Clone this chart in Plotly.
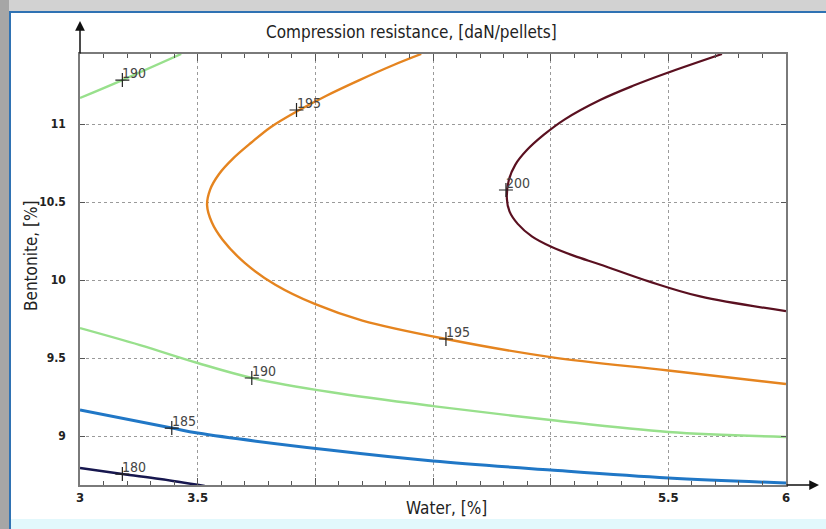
import plotly.graph_objects as go

# ---- data ----
x_ticks = [3, 3.5, 4, 4.5, 5, 5.5, 6]
x_tick_text = ["3", "3.5", "", "", "", "5.5", "6"]
y_ticks = [9, 9.5, 10, 10.5, 11]
y_tick_text = ["9", "9.5", "10", "10.5", "11"]

c180_x = [3.0, 3.18, 3.34, 3.53]
c180_y = [8.795, 8.756, 8.724, 8.68]

c185_x = [3.0, 3.39, 3.5, 4.06, 4.5, 5.0, 5.5, 6.0]
c185_y = [9.167, 9.051, 9.019, 8.91, 8.84, 8.782, 8.731, 8.699]

c190a_x = [3.0, 3.18, 3.43]
c190a_y = [11.167, 11.282, 11.449]

c190b_x = [3.0, 3.255, 3.5, 3.731, 4.062, 4.5, 5.0, 5.5, 6.0]
c190b_y = [9.692, 9.583, 9.468, 9.372, 9.282, 9.192, 9.103, 9.026, 8.994]

c195_x = [4.45, 4.335, 4.185, 4.045, 3.92, 3.81, 3.727, 3.651, 3.591, 3.553, 3.54,
          3.56, 3.605, 3.7, 3.83, 4.0, 4.2, 4.555, 5.0, 5.5, 6.0]
c195_y = [11.449, 11.38, 11.28, 11.18, 11.08, 10.98, 10.88, 10.78, 10.68, 10.58, 10.48,
          10.37, 10.26, 10.11, 9.97, 9.845, 9.74, 9.622, 9.506, 9.42, 9.333]

c200_x = [5.728, 5.494, 5.35, 5.21, 5.06, 4.97, 4.899, 4.85, 4.822, 4.814,
          4.825, 4.86, 4.92, 5.0, 5.1, 5.21, 5.42, 5.635, 6.0]
c200_y = [11.449, 11.327, 11.245, 11.154, 11.03, 10.93, 10.833, 10.74, 10.64, 10.52,
          10.44, 10.36, 10.28, 10.215, 10.155, 10.1, 9.99, 9.895, 9.801]

label_x = [3.18, 3.39, 3.73, 3.18, 3.92, 4.555, 4.81]
label_y = [8.756, 9.051, 9.372, 11.282, 11.09, 9.622, 10.577]
label_text = ["180", "185", "190", "190", "195", "195", "200"]

# ---- figure ----
fig = go.Figure()

curves = [
    (c180_x, c180_y, "#17174f", 2.6),
    (c185_x, c185_y, "#2077c6", 3.0),
    (c190a_x, c190a_y, "#98e08c", 2.4),
    (c190b_x, c190b_y, "#98e08c", 2.4),
    (c195_x, c195_y, "#e5841f", 2.4),
    (c200_x, c200_y, "#5a1020", 2.2),
]
for cx, cy, col, w in curves:
    fig.add_trace(go.Scatter(x=cx, y=cy, mode="lines",
                             line=dict(color=col, width=w, shape="spline", smoothing=1.0),
                             hoverinfo="skip", showlegend=False))

fig.add_trace(go.Scatter(x=label_x, y=label_y, mode="markers",
                         marker=dict(symbol="cross-thin", size=10, line=dict(color="#222222", width=1.2)),
                         showlegend=False, hoverinfo="skip"))

L, R, T, B = 80, 40, 54, 44
W, H = 826, 529
pw, ph = W - L - R, H - T - B


def px(xp):
    return (xp - L) / pw


def py(yp):
    return (H - B - yp) / ph


font_main = "Liberation Sans Narrow, DejaVu Sans Condensed, Arial Narrow, sans-serif"

shapes = [
    dict(type="rect", xref="paper", yref="paper", x0=px(-5), x1=px(840), y0=py(540), y1=py(-5),
         fillcolor="#d2d2d2", line=dict(width=0), layer="below"),
    dict(type="rect", xref="paper", yref="paper", x0=px(-5), x1=px(9), y0=py(540), y1=py(-5),
         fillcolor="#a6a6a6", line=dict(width=0), layer="below"),
    dict(type="rect", xref="paper", yref="paper", x0=px(10), x1=px(840), y0=py(520), y1=py(12),
         fillcolor="white", line=dict(color="#2f72b3", width=2), layer="below"),
    dict(type="rect", xref="paper", yref="paper", x0=px(11), x1=px(840), y0=py(540), y1=py(519),
         fillcolor="#e2f8fc", line=dict(width=0), layer="below"),
    dict(type="line", xref="paper", yref="paper", x0=px(10), x1=px(10), y0=py(540), y1=py(12),
         line=dict(color="#2f72b3", width=2), layer="below"),
]

annotations = [
    dict(text="Compression resistance, [daN/pellets]", xref="paper", yref="paper",
         x=px(411), y=py(32), xanchor="center", yanchor="middle", showarrow=False,
         font=dict(family=font_main, size=17, color="#222")),
    dict(text="Water, [%]", xref="paper", yref="paper", x=px(446), y=py(508),
         xanchor="center", yanchor="middle", showarrow=False,
         font=dict(family=font_main, size=17, color="#222")),
    dict(text="Bentonite, [%]", xref="paper", yref="paper", x=px(31), y=py(256),
         xanchor="center", yanchor="middle", showarrow=False, textangle=-90,
         font=dict(family=font_main, size=17, color="#222")),
    dict(text="", xref="paper", yref="paper", x=px(80), y=py(21), ax=0, ay=34,
         showarrow=True, arrowhead=2, arrowsize=1.3, arrowwidth=1.5, arrowcolor="#111"),
    dict(text="", xref="paper", yref="paper", x=px(819), y=py(485), ax=-34, ay=0,
         showarrow=True, arrowhead=2, arrowsize=1.3, arrowwidth=1.5, arrowcolor="#111"),
]
for lx, ly, lt in zip(label_x, label_y, label_text):
    annotations.append(dict(text=lt, x=lx, y=ly, xref="x", yref="y", showarrow=False,
                            xanchor="left", yanchor="bottom", xshift=-2, yshift=-3,
                            font=dict(family=font_main, size=14, color="#444")))

fig.update_layout(
    width=W, height=H,
    margin=dict(l=L, r=R, t=T, b=B),
    paper_bgcolor="#d2d2d2",
    plot_bgcolor="white",
    shapes=shapes,
    annotations=annotations,
    showlegend=False,
)

fig.update_xaxes(range=[3, 6], tickvals=x_ticks, ticktext=x_tick_text,
                 showgrid=True, gridcolor="#9a9a9a", griddash="dot", gridwidth=1,
                 showline=True, linecolor="#7a7a7a", linewidth=1.5, mirror="ticks",
                 ticks="inside", ticklen=7, tickcolor="#555", zeroline=False,
                 tickfont=dict(family=font_main, size=13, color="#222", weight="bold"),
                 minor=dict(dtick=0.1, ticks="inside", ticklen=4, tickcolor="#555", showgrid=False))
fig.update_yaxes(range=[8.686, 11.449], tickvals=y_ticks, ticktext=y_tick_text,
                 showgrid=True, gridcolor="#9a9a9a", griddash="dot", gridwidth=1,
                 showline=True, linecolor="#7a7a7a", linewidth=1.5, mirror="ticks",
                 ticks="inside", ticklen=5, tickcolor="#555", zeroline=False,
                 ticklabelstandoff=10,
                 tickfont=dict(family=font_main, size=12, color="#222", weight="bold"))

fig.write_html("out.html", config={"displayModeBar": False},
               post_script="document.body.style.margin='0';document.body.style.overflow='hidden';")
